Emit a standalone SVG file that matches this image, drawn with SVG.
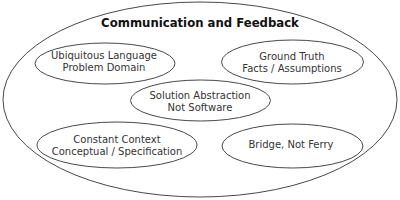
<svg xmlns="http://www.w3.org/2000/svg" width="400" height="200" viewBox="0 0 400 200">
<style>
.e{fill:#fff;stroke:#333;stroke-width:0.9}
.t{font-family:"DejaVu Sans",Verdana,sans-serif;font-size:10px;fill:#333;text-anchor:middle}
.h{font-family:"DejaVu Sans",Verdana,sans-serif;font-size:11.7px;font-weight:bold;fill:#111;text-anchor:middle}
</style>
<rect width="400" height="200" fill="#fff"/>
<g id="outer">
<ellipse class="e" cx="200" cy="99.5" rx="197" ry="97.5"/>
<text class="h" x="200" y="27">Communication and Feedback</text>
</g>
<g id="connectors"></g>
<g id="ubiquitous">
<ellipse class="e" cx="105" cy="63.5" rx="70" ry="20.5"/>
<text class="t" x="104" y="59">Ubiquitous Language</text>
<text class="t" x="104" y="71">Problem Domain</text>
</g>
<g id="ground">
<ellipse class="e" cx="292.5" cy="62" rx="71" ry="22"/>
<text class="t" x="292" y="60">Ground Truth</text>
<text class="t" x="292" y="72">Facts / Assumptions</text>
</g>
<g id="solution">
<ellipse class="e" cx="200.5" cy="100.5" rx="70" ry="20.5"/>
<text class="t" x="200" y="99">Solution Abstraction</text>
<text class="t" x="200" y="111">Not Software</text>
</g>
<g id="constant">
<ellipse class="e" cx="117" cy="145" rx="80" ry="23"/>
<text class="t" x="117" y="143">Constant Context</text>
<text class="t" x="117" y="155">Conceptual / Specification</text>
</g>
<g id="bridge">
<ellipse class="e" cx="292.5" cy="146" rx="70.5" ry="22"/>
<text class="t" x="291" y="148">Bridge, Not Ferry</text>
</g>
</svg>
